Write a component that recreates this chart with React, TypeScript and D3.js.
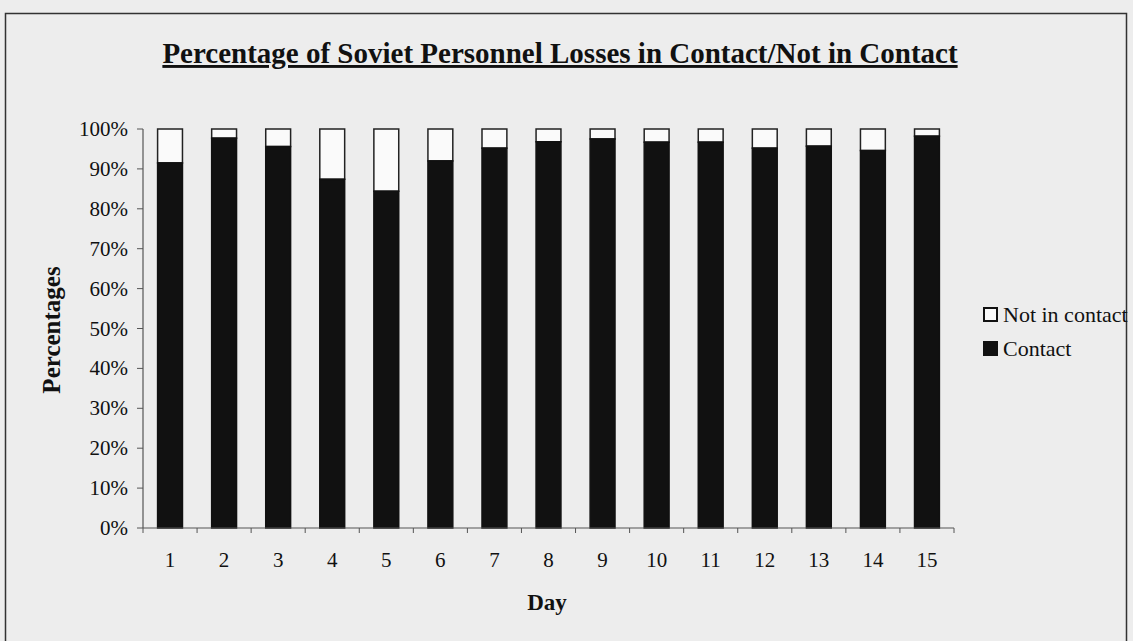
import React from "react";
import * as d3 from "d3";

const days = ["1","2","3","4","5","6","7","8","9","10","11","12","13","14","15"];
const contact = [91.5, 97.7, 95.6, 87.4, 84.4, 92.0, 95.2, 96.8, 97.5, 96.7, 96.7, 95.2, 95.7, 94.6, 98.2];
const yTicks = [0,10,20,30,40,50,60,70,80,90,100];
const legendItems = [{ label: "Not in contact", fill: "#fafafa" }, { label: "Contact", fill: "#111" }];

const W = 1133, H = 641;
const left = 143, right = 954, top = 129, bottom = 528;

export default function App() {
  const x = d3.scaleBand<string>().domain(days).range([left, right]).paddingInner(0.54).paddingOuter(0.27);
  const xb = d3.scaleBand<string>().domain(days).range([left, right]);
  const y = d3.scaleLinear().domain([0, 100]).range([bottom, top]);
  const font = "'Liberation Serif', 'Times New Roman', serif";
  return (
    <svg width={W} height={H} style={{ position: "absolute", left: 0, top: 0, background: "#ededed" }} fontFamily={font}>
      <rect x={0} y={0} width={W} height={H} fill="#ededed" />
      <path d={`M5.5,${H} V13.5 H1126.5 V${H}`} fill="none" stroke="#333" strokeWidth={1.5} />
      <text x={560} y={63} textAnchor="middle" fontSize={29} fontWeight="bold" fill="#111" textDecoration="underline">
        Percentage of Soviet Personnel Losses in Contact/Not in Contact
      </text>
      {days.map((d, i) => (
        <g key={d}>
          <rect x={x(d)!} y={y(100)} width={x.bandwidth()} height={y(contact[i]) - y(100)} fill="#fafafa" stroke="#222" strokeWidth={1.5} />
          <rect x={x(d)!} y={y(contact[i])} width={x.bandwidth()} height={y(0) - y(contact[i])} fill="#111" stroke="#111" strokeWidth={1.5} />
        </g>
      ))}
      <line x1={left} x2={left} y1={top} y2={bottom} stroke="#555" strokeWidth={1.2} />
      <line x1={left} x2={right} y1={bottom} y2={bottom} stroke="#555" strokeWidth={1.2} />
      {yTicks.map(t => (
        <g key={t}>
          <line x1={left - 6} x2={left} y1={y(t)} y2={y(t)} stroke="#555" />
          <text x={128} y={y(t) + 7} textAnchor="end" fontSize={21} fill="#111">{t}%</text>
        </g>
      ))}
      {[...days.map(d => xb(d)!), right].map((v, i) => (
        <line key={i} x1={v} x2={v} y1={bottom} y2={bottom + 5} stroke="#555" />
      ))}
      {days.map(d => (
        <text key={d} x={xb(d)! + xb.bandwidth() / 2} y={567} textAnchor="middle" fontSize={21} fill="#111">{d}</text>
      ))}
      <text x={547} y={610} textAnchor="middle" fontSize={23} fontWeight="bold" fill="#111">Day</text>
      <text transform={`translate(60,330) rotate(-90)`} textAnchor="middle" fontSize={25} fontWeight="bold" fill="#111">Percentages</text>
      {legendItems.map((it, i) => (
        <g key={it.label}>
          <rect x={984} y={308 + i * 34} width={13} height={13} fill={it.fill} stroke="#111" strokeWidth={2} />
          <text x={1003} y={322 + i * 34} fontSize={22} fill="#111">{it.label}</text>
        </g>
      ))}
    </svg>
  );
}
